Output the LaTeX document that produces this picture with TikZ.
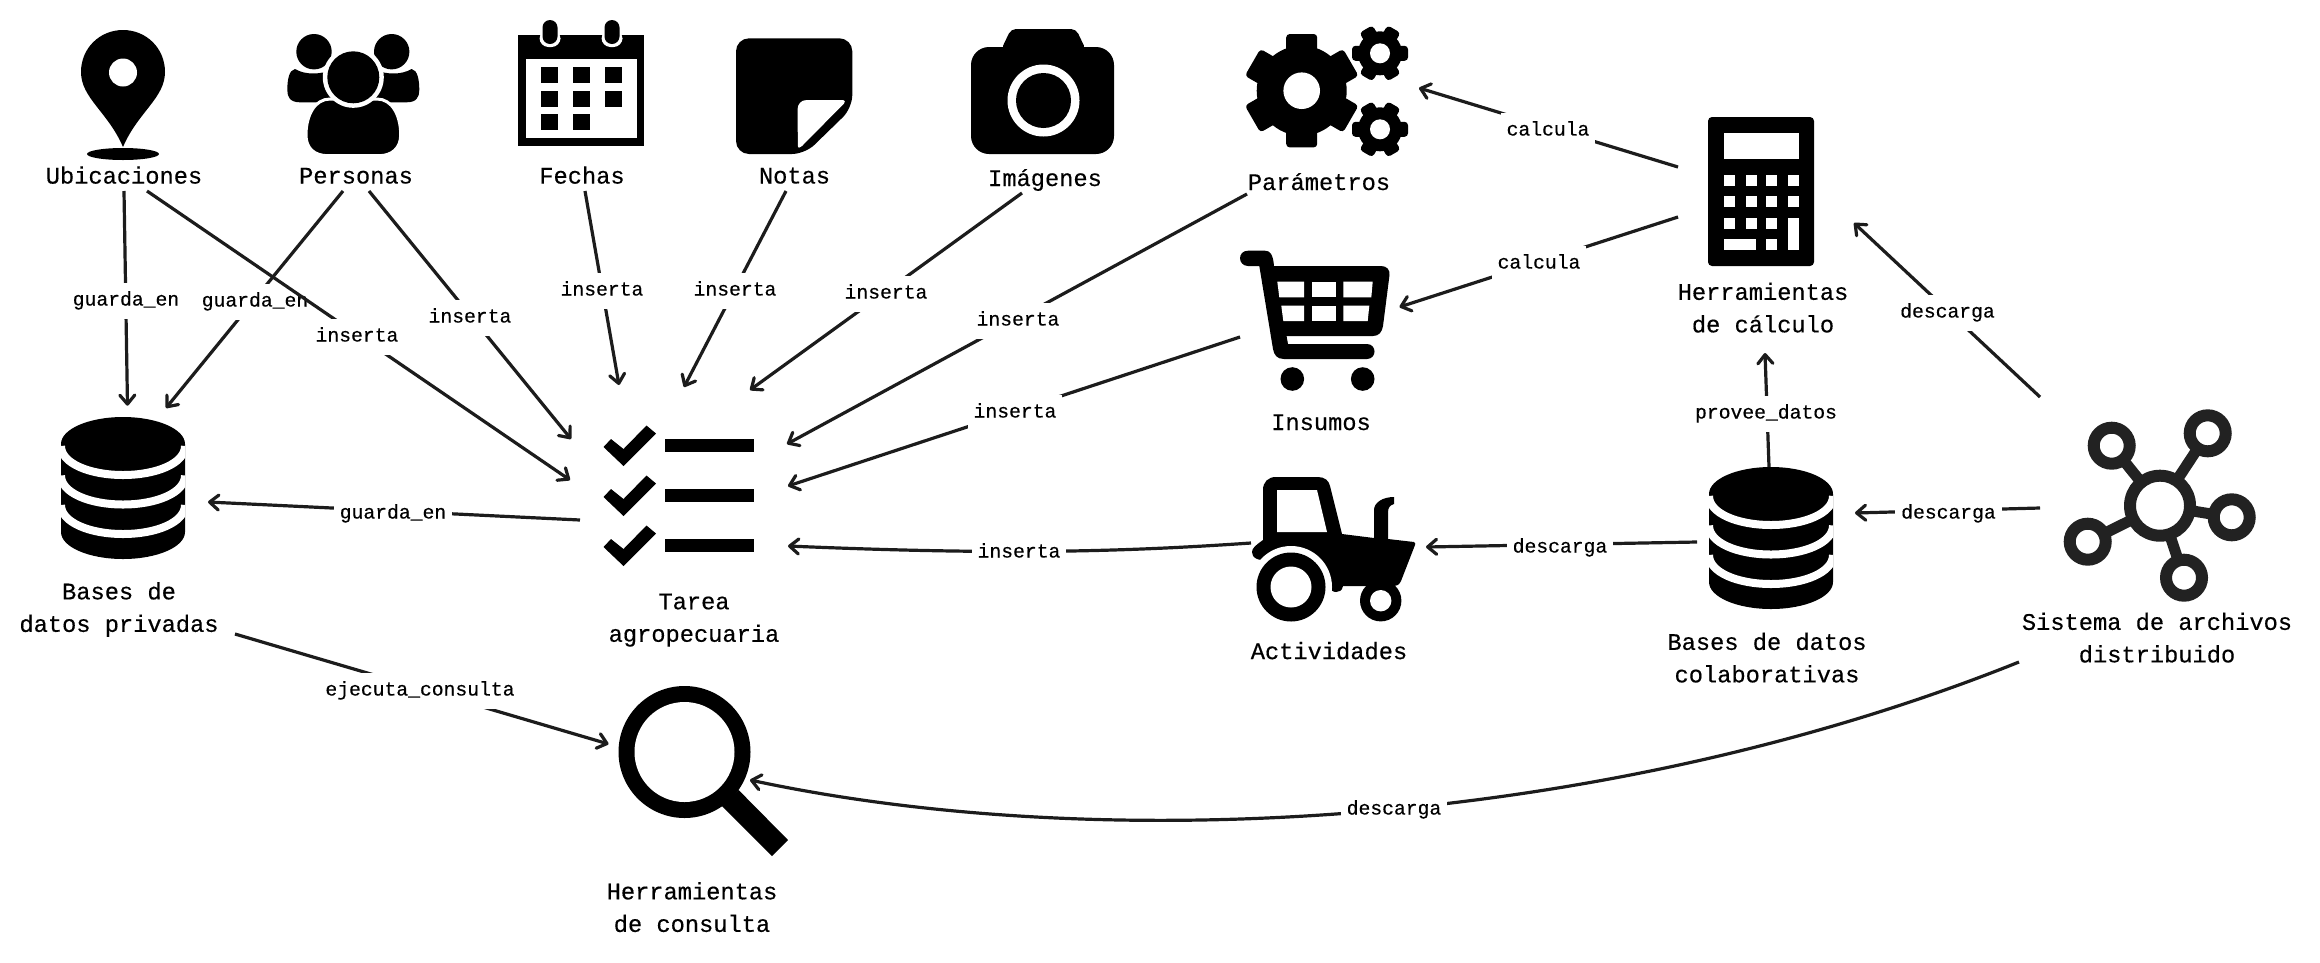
\documentclass[tikz,border=0pt]{standalone}
\usepackage{fontspec}
\usetikzlibrary{arrows.meta}
\newfontfamily\monofam[FakeBold=0.4]{Liberation Mono}
\definecolor{ink}{HTML}{1C1C1C}
\definecolor{hubc}{HTML}{222222}
\newcommand{\linestrut}{\rule[-6pt]{0pt}{23pt}}
\tikzset{
  x=1pt,y=-1pt,
  >={Straight Barb[length=9pt,width=15pt,round]},
  edge/.style={draw=ink,line width=3.2pt,->},
  elab/.style={fill=white,inner xsep=6pt,inner ysep=0pt,minimum height=36pt,text=black,yshift=-1.5pt,
    text height=15pt,text depth=5pt,font=\fontsize{19.7}{24}\monofam},
  ent/.style={inner sep=0pt,text=black,align=center,yshift=-1.5pt,font=\fontsize{23.7}{32.5}\monofam},
  icon/.style={fill=black,draw=none},
  hole/.style={fill=white,draw=none},
}
\newcommand{\gearicon}[7]{% x y R body w hole start
  \begin{scope}[shift={(#1,#2)}]
    \foreach \a in {0,60,...,300}{
      \begin{scope}[rotate=\a+#7]
        \fill[black,rounded corners=3.5pt] (-#5/2,0) -- (-#5/2,#3) -- (#5/2,#3) -- (#5/2,0) -- cycle;
      \end{scope}
    }
    \fill[black] (0,0) circle (#4);
    \fill[white] (0,0) circle (#6);
  \end{scope}}
\newcommand{\dbicon}[2]{% cx top
  \begin{scope}[shift={(#1,#2)}]
    \begin{scope}
      \clip (-62,27) -- (-62,115) .. controls (-62,130) and (-34,142) .. (0,142) .. controls (34,142) and (62,130) .. (62,115) -- (62,27) .. controls (62,12) and (34,0) .. (0,0) .. controls (-34,0) and (-62,12) .. (-62,27) -- cycle;
      \fill[black] (-63,-1) rectangle (63,143);
      \foreach \d in {31,60.5,90}{
        \draw[white,line width=8pt] (-62,\d-2) .. controls (-62,\d+15) and (-34,\d+27) .. (0,\d+27) .. controls (34,\d+27) and (62,\d+15) .. (62,\d-2);
      }
    \end{scope}
  \end{scope}}
\begin{document}
\begin{tikzpicture}
\useasboundingbox (0,0) rectangle (2320,962);
% ---- icons ----
% pin
\fill[icon] (123,147) .. controls (108,112) and (81,98) .. (81,72) .. controls (81,48) and (100,30) .. (123,30) .. controls (146,30) and (165,48) .. (165,72) .. controls (165,98) and (138,112) .. (123,147) -- cycle;
\fill[hole] (123,72.5) circle (14);
\fill[icon] (123,154) ellipse (36 and 6);
% people
\fill[icon] (295,69) .. controls (305,75) and (320,75) .. (335,69) -- (345,102.3) -- (300,102.3) .. controls (290,102.3) and (287.3,97) .. (287.3,90) .. controls (287.3,80) and (289,70) .. (295,69) -- cycle;
\fill[icon] (411.6,69) .. controls (401.6,75) and (386.6,75) .. (371.6,69) -- (361.6,102.3) -- (406.6,102.3) .. controls (416.6,102.3) and (419.3,97) .. (419.3,90) .. controls (419.3,80) and (417.6,70) .. (411.6,69) -- cycle;
\fill[hole] (314,51.7) circle (21);
\fill[hole] (391.7,51.7) circle (21);
\fill[icon] (314,51.7) circle (17.7);
\fill[icon] (391.7,51.7) circle (17.7);
\fill[icon,draw=white,line width=3pt] (328,155.7) .. controls (314,155.7) and (306,148) .. (306,135) .. controls (306,115) and (315,99) .. (330,99) -- (377,99) .. controls (392,99) and (400.7,115) .. (400.7,135) .. controls (400.7,148) and (392,155.7) .. (379,155.7) -- cycle;
\fill[hole] (353.3,77.3) circle (30.5);
\fill[icon] (353.3,77.3) circle (26);
% calendar
\fill[icon] (518,35) rectangle (644,146);
\fill[hole] (525.5,59) rectangle (637,138);
\foreach \cx in {550,612}{
  \fill[hole,rounded corners=9pt] (\cx-10.5,30) rectangle (\cx+10.5,47);
  \fill[icon,rounded corners=7.5pt] (\cx-7.5,20) rectangle (\cx+7.5,44);
}
\foreach \cx/\cy in {541/67,573/67,605/67,541/91,573/91,605/91,541/114,573/114}{
  \fill[icon] (\cx,\cy) rectangle (\cx+16.5,\cy+16);
}
% note
\fill[icon,rounded corners=13pt] (736,38.3) -- (852.3,38.3) -- (852.3,108) -- (805,154) -- (736,154) -- cycle;
\fill[hole] (798,147) .. controls (797.5,120) and (797.5,112) .. (797.5,110) .. controls (797.5,104) and (801,100) .. (807,100) -- (843,100) .. controls (845,100) and (845.5,102) .. (844,103.5) -- (802,146) .. controls (800,148) and (798,148) .. (798,147) -- cycle;
% camera
\fill[icon,rounded corners=5pt] (1001,50) -- (1011,29) -- (1076,29) -- (1086,50) -- cycle;
\fill[icon,rounded corners=18pt] (971,47) rectangle (1114,154);
\fill[hole] (1043.5,100.5) circle (36);
\fill[icon] (1043.5,100.5) circle (27.5);
% gears
\gearicon{1301.7}{90.7}{56.7}{45}{31}{18.3}{0}
\gearicon{1380}{53.3}{28}{22}{15}{10}{30}
\gearicon{1380}{129.3}{28}{22}{15}{10}{30}
% calculator
\fill[icon,rounded corners=4pt] (1708,117) rectangle (1814,266);
\fill[hole] (1724,133) rectangle (1799,159);
\foreach \bx in {1724,1745.5,1766,1788}{
  \fill[hole] (\bx,175) rectangle (\bx+11,186);
  \fill[hole] (\bx,196) rectangle (\bx+11,207);
}
\foreach \bx in {1724,1745.5,1766}{\fill[hole] (\bx,218) rectangle (\bx+11,229);}
\fill[hole] (1788,218) rectangle (1799,249.5);
\fill[hole] (1724,239) rectangle (1756,249.5);
\fill[hole] (1766,239) rectangle (1777,249.5);
% cart
\fill[icon] (1248,250.7) -- (1265,250.7) .. controls (1270,250.7) and (1273,254) .. (1274,266) -- (1381,266) .. controls (1387,266) and (1390,270) .. (1389.5,275) -- (1383,326) .. controls (1382,332) and (1379,336) .. (1373,336) -- (1286.5,336) -- (1288,344) -- (1367,344) .. controls (1372,344) and (1374.5,348) .. (1374.5,351.5) .. controls (1374.5,355) and (1372,359) .. (1367,359) -- (1284,359) .. controls (1277,359) and (1274,355) .. (1273,349) -- (1259.3,266) -- (1248,266) .. controls (1243,266) and (1240,262) .. (1240,258.3) .. controls (1240,254) and (1243,250.7) .. (1248,250.7) -- cycle;
\fill[hole] (1277.3,281.7) -- (1304,281.7) -- (1304,297.3) -- (1279.3,297.3) -- cycle;
\fill[hole] (1312.3,281.7) rectangle (1335.7,297.3);
\fill[hole] (1343.3,281.7) -- (1372.7,281.7) -- (1371.3,297.3) -- (1343.3,297.3) -- cycle;
\fill[hole] (1281.3,305.7) -- (1304,305.7) -- (1304,321) -- (1283.3,321) -- cycle;
\fill[hole] (1312.3,305.7) rectangle (1335.7,321);
\fill[hole] (1343.3,305.7) -- (1369.3,305.7) -- (1367.7,321) -- (1343.3,321) -- cycle;
\fill[icon] (1292.3,379) circle (11.8);
\fill[icon] (1362.7,379) circle (11.8);
% tasks
\foreach \dy/\by in {0/439,50/489,100/539}{
  \begin{scope}[shift={(0,\dy)}]
    \fill[icon] (603.5,447) -- (611,439) -- (623.5,449) -- (646.5,425.5) -- (656,433.5) -- (623.5,466) -- cycle;
  \end{scope}
  \fill[icon] (665,\by) rectangle (754,\by+13);
}
% databases
\dbicon{123}{417}
\dbicon{1771}{467}
% tractor
\fill[icon] (1263,540) -- (1263,490) .. controls (1263,482) and (1268,477) .. (1276,477) -- (1318,477) .. controls (1325,477) and (1329,481) .. (1330,486) -- (1342,534) -- (1374,538) -- (1374,510) .. controls (1374,503) and (1382,497) .. (1394,497) -- (1394,504) .. controls (1390,505) and (1388,508) .. (1388,512) -- (1388,539) -- (1414,542) .. controls (1415.5,542.5) and (1415.5,544) .. (1415,545) -- (1401,581) .. controls (1399,585) and (1397,586) .. (1394,586) -- (1343,586) .. controls (1342,591) and (1339,592) .. (1336,592) .. controls (1333,592) and (1330,590) .. (1328,586) -- (1262,560) .. controls (1258,560) and (1252,558) .. (1252,552) .. controls (1252,548) and (1256,545) .. (1263,540) -- cycle;
\fill[hole] (1277,490) -- (1317,490) -- (1327,532) -- (1277,532) -- cycle;
\fill[hole] (1291,587) circle (41);
\fill[icon] (1291,587) circle (34.5);
\fill[hole] (1291,587) circle (20.5);
\fill[icon] (1380.7,600.7) circle (20.7);
\fill[hole] (1380.7,600.7) circle (10.7);
% hub
\foreach \sx/\sy in {2111.7/445.7,2207.7/433.3,2231.7/517.3,2184/577.7,2087.7/541.7}{
  \draw[hubc,line width=11pt] (2160,505.7) -- (\sx,\sy);
}
\foreach \sx/\sy in {2111.7/445.7,2207.7/433.3,2231.7/517.3,2184/577.7,2087.7/541.7}{
  \draw[hubc,line width=12pt,fill=white] (\sx,\sy) circle (18);
}
\draw[hubc,line width=12pt,fill=white] (2160,505.7) circle (30);
% magnifier
\fill[icon] (738.6,790) -- (788,840) -- (772,856) -- (722,806) -- cycle;
\fill[icon] (684.5,752) circle (66);
\fill[hole] (684.5,752) circle (50);
% ---- entity labels ----
\node[ent] (ubi) at (124,176.5) {\linestrut Ubicaciones};
\node[ent] (per) at (356,176.5) {\linestrut Personas};
\node[ent] (fec) at (582,176.5) {\linestrut Fechas};
\node[ent] (not) at (794.5,176.5) {\linestrut Notas};
\node[ent] (ima) at (1045,179) {\linestrut Imágenes};
\node[ent] (par) at (1319,183) {\linestrut Parámetros};
\node[ent] (ins) at (1321,423) {\linestrut Insumos};
\node[ent] (act) at (1329,652) {\linestrut Actividades};
\node[ent] (dbc) at (1767,659) {\linestrut Bases de datos\\\linestrut colaborativas};
\node[ent] (sis) at (2157,639) {\linestrut Sistema de archivos\\\linestrut distribuido};
\node[ent] (cal) at (1763,309) {\linestrut Herramientas\\\linestrut de cálculo};
\node[ent] (tar) at (694,618.5) {\linestrut Tarea\\\linestrut agropecuaria};
\node[ent] (dbp) at (119,608.5) {\linestrut Bases de\\\linestrut datos privadas};
\node[ent] (con) at (692,908.5) {\linestrut Herramientas\\\linestrut de consulta};
% ---- connector ends ----
\coordinate (ubi-a) at (124,191);
\coordinate (ubi-b) at (147,191);
\coordinate (per-a) at (343,191);
\coordinate (per-b) at (369,191);
\coordinate (fec-a) at (585,191);
\coordinate (not-a) at (786,191);
\coordinate (ima-a) at (1022,193);
\coordinate (par-a) at (1247,194);
\coordinate (ins-a) at (1240,337);
\coordinate (act-in) at (1426,547);
\coordinate (act-a) at (1251,543);
\coordinate (tar-t1) at (570,480);
\coordinate (tar-t2) at (571,439);
\coordinate (tar-t3) at (619,385);
\coordinate (tar-t4) at (684,387);
\coordinate (tar-t5) at (750,390);
\coordinate (tar-t6) at (787,444);
\coordinate (tar-t7) at (788,486);
\coordinate (tar-t8) at (788,546);
\coordinate (tar-a) at (580,520);
\coordinate (dbp-t1) at (127.5,405.7);
\coordinate (dbp-t2) at (166,408);
\coordinate (dbp-t3) at (208,502);
\coordinate (dbp-a) at (235,634);
\coordinate (con-t1) at (608.5,744);
\coordinate (con-t2) at (750,780);
\coordinate (cal-a) at (1678,167);
\coordinate (cal-b) at (1678,217);
\coordinate (cal-t1) at (1854,223);
\coordinate (cal-t2) at (1765,353);
\coordinate (par-t) at (1419,88);
\coordinate (ins-t) at (1399.5,307);
\coordinate (dbc-a) at (1769,467);
\coordinate (dbc-b) at (1697,542);
\coordinate (dbc-t) at (1855,513);
\coordinate (sis-a) at (2040,397);
\coordinate (sis-b) at (2040,508);
\coordinate (sis-c) at (2019,662);
% ---- connectors ----
\draw[edge] (ubi-a) -- (dbp-t1);
\node[elab] (l01) at (126,299) {guarda\_en};
\draw[edge] (per-a) -- (dbp-t2);
\node[elab] (l02) at (255,300) {guarda\_en};
\draw[edge] (ubi-b) -- (tar-t1);
\node[elab] (l03) at (357,335) {inserta};
\draw[edge] (per-b) -- (tar-t2);
\node[elab] (l04) at (470,316) {inserta};
\draw[edge] (fec-a) -- (tar-t3);
\node[elab] (l05) at (602,289) {inserta};
\draw[edge] (not-a) -- (tar-t4);
\node[elab] (l06) at (735,289) {inserta};
\draw[edge] (ima-a) -- (tar-t5);
\node[elab] (l07) at (886,292) {inserta};
\draw[edge] (par-a) -- (tar-t6);
\node[elab] (l08) at (1018,319) {inserta};
\draw[edge] (ins-a) -- (tar-t7);
\node[elab] (l09) at (1015,411) {inserta};
\draw[edge] (act-a) .. controls (1120,552) and (1000,555) .. (tar-t8);
\node[elab] (l10) at (1019,551) {inserta};
\draw[edge] (tar-a) -- (dbp-t3);
\node[elab] (l11) at (393,512) {guarda\_en};
\draw[edge] (dbp-a) -- (con-t1);
\node[elab] (l12) at (420,689) {ejecuta\_consulta};
\draw[edge] (cal-a) -- (par-t);
\node[elab] (l13) at (1548,129) {calcula};
\draw[edge] (cal-b) -- (ins-t);
\node[elab] (l14) at (1539,262) {calcula};
\draw[edge] (sis-a) -- (cal-t1);
\node[elab] (l15) at (1947.5,311) {descarga};
\draw[edge] (dbc-a) -- (cal-t2);
\node[elab] (l16) at (1766,412) {provee\_datos};
\draw[edge] (dbc-b) -- (act-in);
\node[elab] (l17) at (1560,546) {descarga};
\draw[edge] (sis-b) -- (dbc-t);
\node[elab] (l18) at (1948.5,512) {descarga};
\draw[edge] (sis-c) .. controls (1600,830) and (1100,855) .. (con-t2);
\node[elab] (l19) at (1394,808) {descarga};
\end{tikzpicture}
\end{document}
